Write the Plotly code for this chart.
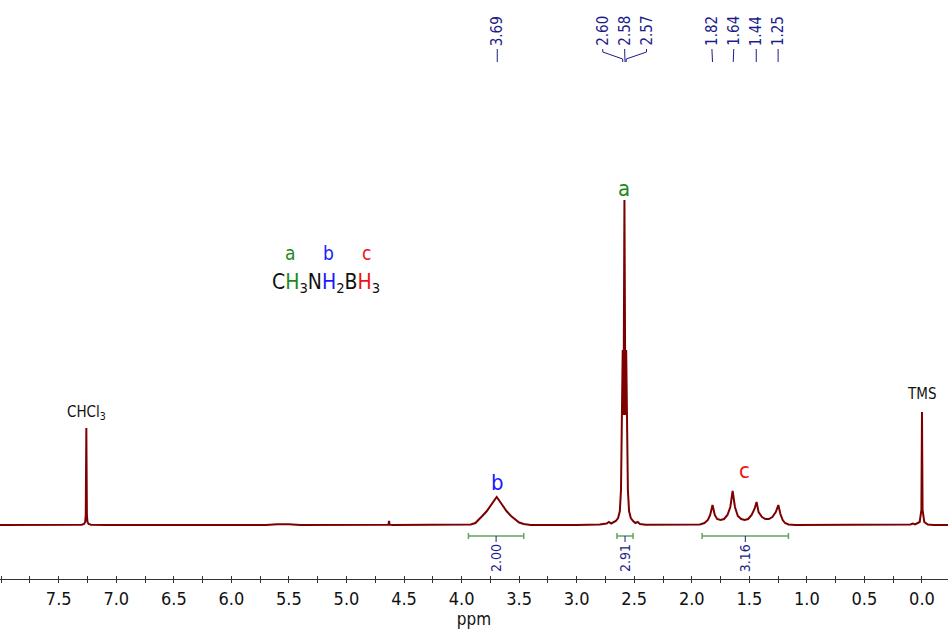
import plotly.graph_objects as go

# ---------------- data ----------------
# traced 1H NMR spectrum (ppm, intensity in arbitrary units)
spec_ppm = [8.10, 7.40, 7.30, 7.28, 7.27, 7.265, 7.26, 7.255, 7.25, 7.24, 7.22, 7.10,
            5.70, 5.60, 5.50, 5.40, 4.66, 4.635, 4.63, 4.625, 4.60,
            3.97, 3.92, 3.88, 3.85, 3.82, 3.78, 3.75, 3.72, 3.695, 3.67, 3.64, 3.61, 3.57, 3.53,
            3.50, 3.46, 3.40,
            3.00, 2.80, 2.74, 2.72, 2.70, 2.68, 2.66, 2.64, 2.625, 2.615, 2.607, 2.600, 2.593,
            2.585, 2.577, 2.570, 2.563, 2.555, 2.545, 2.53, 2.51, 2.49, 2.47, 2.45, 2.40, 2.10,
            2.00, 1.93, 1.89, 1.86, 1.84, 1.82, 1.80, 1.78, 1.75, 1.72, 1.69, 1.665, 1.645, 1.625,
            1.60, 1.57, 1.54, 1.51, 1.48, 1.455, 1.437, 1.42, 1.39, 1.36, 1.33, 1.30, 1.27, 1.248,
            1.23, 1.21, 1.19, 1.16, 1.10,
            1.00, 0.20, 0.10, 0.08, 0.06, 0.02, 0.005, 0.0, -0.005, -0.02, -0.05, -0.10, -0.30]
spec_int = [0, 0, 0.3, 1, 3, 10, 97, 10, 3, 1, 0.3, 0,
            0, 0.8, 0.8, 0, 0, 0.3, 4, 0.3, 0,
            0, 0.5, 2, 5, 9, 14, 19, 24, 28, 24, 19, 14, 9, 5,
            2.5, 1, 0,
            0, 0.5, 1.5, 3, 1.5, 2.5, 4, 7, 14, 35, 110, 175, 110,
            325, 110, 175, 110, 35, 14, 7, 4, 2, 3, 1, 0.3, 0,
            0, 0.5, 2, 5, 10, 20, 10, 6, 5, 6, 10, 18, 34, 18,
            9, 6, 5, 6, 10, 16, 23, 13, 8, 6, 6, 8, 13, 20,
            11, 5, 2, 0.5, 0,
            0, 0, 0.5, 1.5, 0.5, 3, 15, 113, 15, 3, 0.5, 0, 0]

peak_labels = [3.69, 2.60, 2.58, 2.57, 1.82, 1.64, 1.44, 1.25]

integ_start = [3.94, 2.65, 1.91]
integ_end = [3.46, 2.51, 1.16]
integ_values = [2.00, 2.91, 3.16]

tick_vals = [7.5, 7.0, 6.5, 6.0, 5.5, 5.0, 4.5, 4.0, 3.5, 3.0, 2.5, 2.0, 1.5, 1.0, 0.5, 0.0]

# ---------------- styles ----------------
RED = "#7d0000"
NAVY = "#1c1c8a"
GREEN_INT = "#5fa55f"
FONT = "DejaVu Sans Condensed, DejaVu Sans, sans-serif"
X_RANGE = [8.01, -0.226]

fig = go.Figure()
fig.add_trace(go.Scatter(x=spec_ppm, y=spec_int, mode="lines",
                         line=dict(color=RED, width=2), hoverinfo="skip"))

# ---- peak labels spread so they do not overlap ----
MIN_SEP = 0.19
pos = sorted(peak_labels, reverse=True)
groups = [[p] for p in pos]
changed = True
while changed:
    changed = False
    placed = []
    for g in groups:
        mean = sum(g) / len(g)
        xs = [mean + (len(g) - 1) / 2 * MIN_SEP - i * MIN_SEP for i in range(len(g))]
        placed.append(xs)
    for i in range(len(groups) - 1):
        if placed[i][-1] - placed[i + 1][0] < MIN_SEP - 1e-9:
            groups = groups[:i] + [groups[i] + groups[i + 1]] + groups[i + 2:]
            changed = True
            break
label_x = [x for xs in placed for x in xs]

Y_TXT_BOT = 477   # data units (baseline 0 at pixel 525)
for p, lx in zip(pos, label_x):
    fig.add_annotation(x=lx, y=Y_TXT_BOT, text=f"{p:.2f}", textangle=-90,
                       showarrow=False, xanchor="center", yanchor="bottom",
                       font=dict(family=FONT, size=15, color=NAVY))
    fig.add_trace(go.Scatter(x=[lx, lx, p, p], y=[Y_TXT_BOT - 1, Y_TXT_BOT - 4, Y_TXT_BOT - 11, Y_TXT_BOT - 14],
                             mode="lines", line=dict(color=NAVY, width=1), hoverinfo="skip"))

# ---- integrations ----
Y_INT = -11
for s, e, v in zip(integ_start, integ_end, integ_values):
    m = (s + e) / 2
    fig.add_trace(go.Scatter(x=[s, e], y=[Y_INT, Y_INT], mode="lines",
                             line=dict(color=GREEN_INT, width=1.5), hoverinfo="skip"))
    for xe in (s, e):
        fig.add_trace(go.Scatter(x=[xe, xe], y=[Y_INT + 3, Y_INT - 3], mode="lines",
                                 line=dict(color=GREEN_INT, width=1.5), hoverinfo="skip"))
    fig.add_trace(go.Scatter(x=[m, m], y=[Y_INT, Y_INT - 6], mode="lines",
                             line=dict(color=NAVY, width=1), hoverinfo="skip"))
    fig.add_annotation(x=m, y=Y_INT - 6, text=f"{v:.2f}", textangle=-90,
                       showarrow=False, xanchor="center", yanchor="top",
                       font=dict(family=FONT, size=14, color=NAVY))

# ---- labels on spectrum ----
fig.add_annotation(x=2.585, y=337, text="a", showarrow=False,
                   font=dict(family=FONT, size=22, color="#1a8a1a"))
fig.add_annotation(x=3.69, y=43, text="b", showarrow=False,
                   font=dict(family=FONT, size=22, color="#1a1aff"))
fig.add_annotation(x=1.54, y=55, text="c", showarrow=False,
                   font=dict(family=FONT, size=22, color="#ee1111"))
fig.add_annotation(x=7.26, y=113, text="CHCl<sub>3</sub>", showarrow=False,
                   font=dict(family=FONT, size=15, color="#111111"))
fig.add_annotation(x=0.0, y=131, text="TMS", showarrow=False,
                   font=dict(family=FONT, size=15, color="#111111"))

# structure
fig.add_annotation(x=5.49, y=272, text="a", showarrow=False,
                   font=dict(family=FONT, size=19, color="#1a8a1a"))
fig.add_annotation(x=5.16, y=272, text="b", showarrow=False,
                   font=dict(family=FONT, size=19, color="#1a1aff"))
fig.add_annotation(x=4.83, y=272, text="c", showarrow=False,
                   font=dict(family=FONT, size=19, color="#ee1111"))
formula = ("C<span style='color:#1a8a1a'>H</span><sub>3</sub>N"
           "<span style='color:#1a1aff'>H</span><sub>2</sub>B"
           "<span style='color:#ee1111'>H</span><sub>3</sub>")
fig.add_annotation(x=5.18, y=242, text=formula, showarrow=False,
                   font=dict(family=FONT, size=21, color="#111111"))

# invisible trace so the overlay axis (inner half of the crossing ticks) is drawn
fig.add_trace(go.Scatter(x=[X_RANGE[0]], y=[0], xaxis="x2", mode="markers",
                         marker=dict(opacity=0), hoverinfo="skip"))

fig.update_layout(
    width=948, height=633,
    margin=dict(l=0, r=0, t=0, b=54),
    plot_bgcolor="white", paper_bgcolor="white",
    showlegend=False,
    xaxis=dict(range=X_RANGE, showgrid=False, zeroline=False,
               showline=True, linecolor="#333333", linewidth=1,
               tickvals=tick_vals, ticktext=[f"{t:.1f}" for t in tick_vals],
               ticks="outside", ticklen=3, tickcolor="#333333",
               minor=dict(dtick=0.25, ticks="outside", ticklen=3, tickcolor="#333333"),
               tickfont=dict(family=FONT, size=18, color="#111111"),
               title=dict(text="ppm", font=dict(family=FONT, size=17, color="#111111"), standoff=0)),
    xaxis2=dict(range=X_RANGE, overlaying="x", anchor="y", side="bottom",
                showgrid=False, zeroline=False, showline=False,
                tickvals=tick_vals, showticklabels=False,
                ticks="inside", ticklen=3, tickcolor="#333333",
                minor=dict(dtick=0.25, ticks="inside", ticklen=3, tickcolor="#333333")),
    yaxis=dict(range=[-54, 525], visible=False, showgrid=False, zeroline=False),
)

fig.write_html("out.html")
